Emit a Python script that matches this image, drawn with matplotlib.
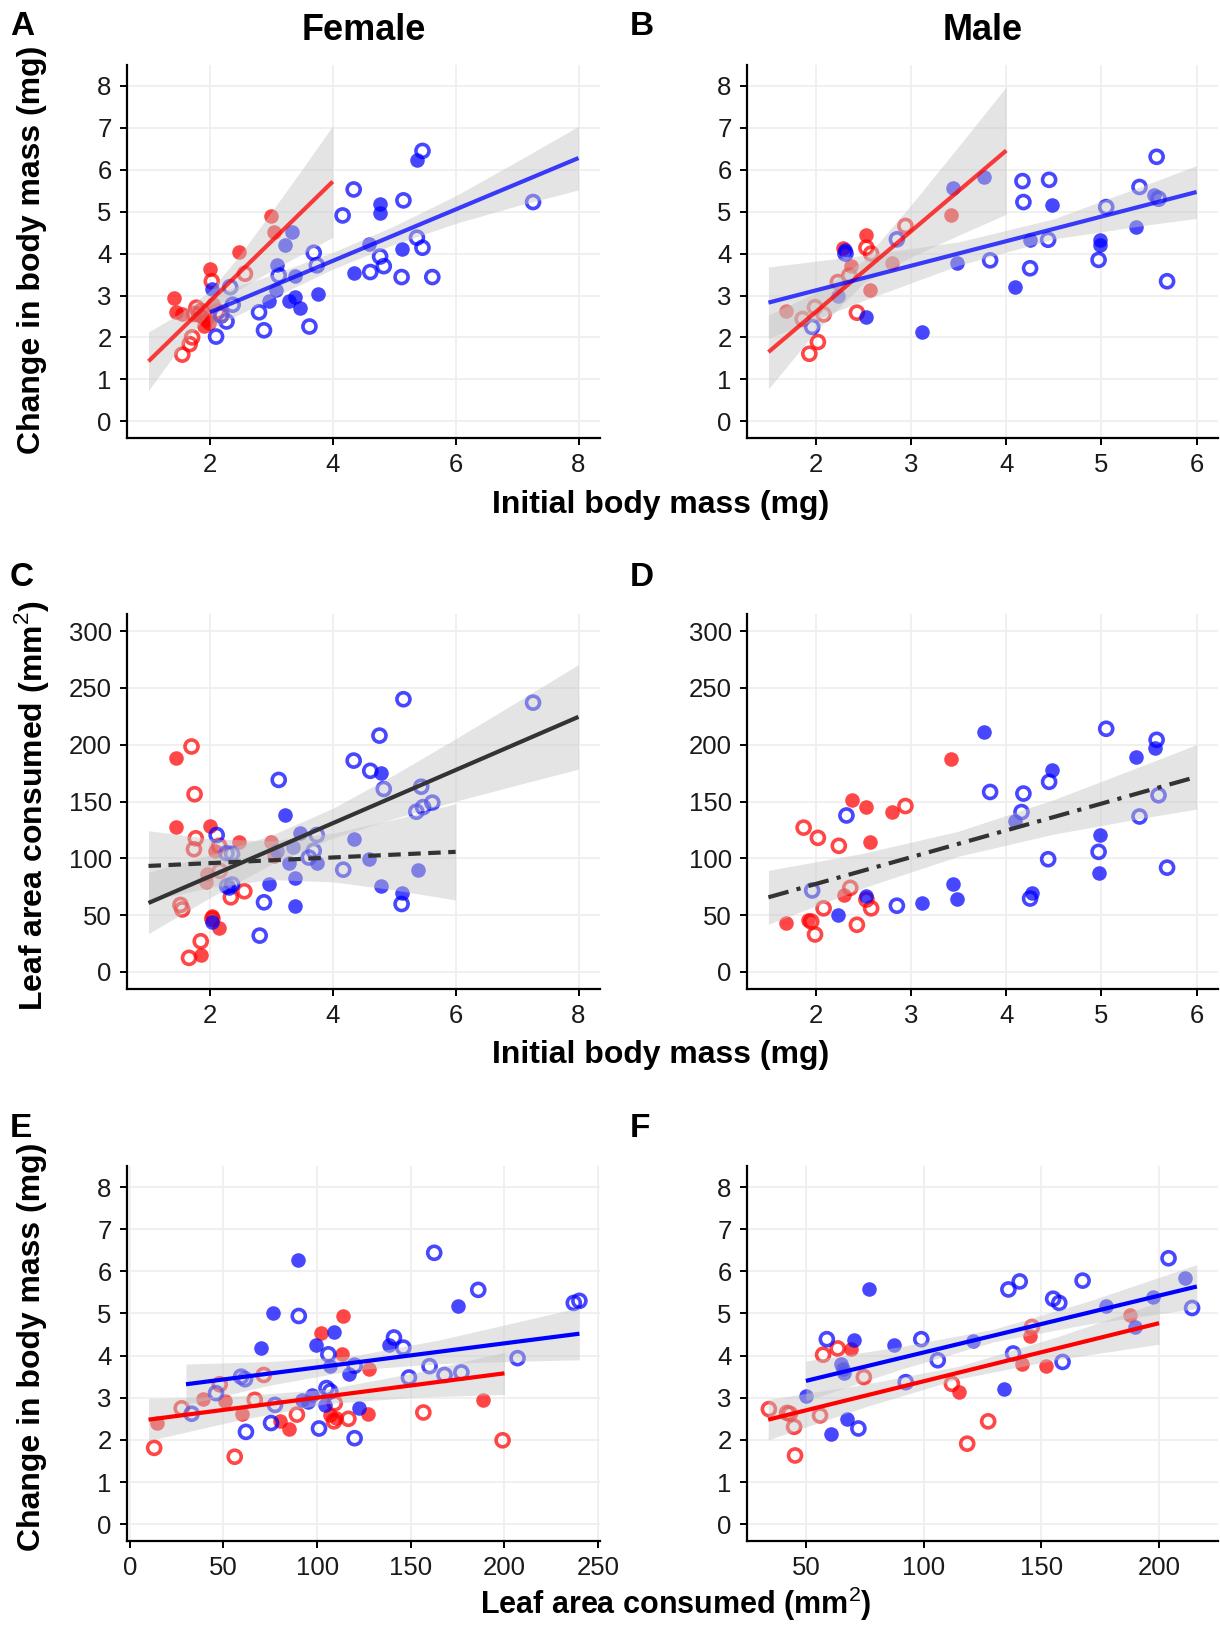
import numpy as np
import matplotlib
matplotlib.use('Agg')
import matplotlib.pyplot as plt

plt.rcParams['font.family'] = ['Liberation Sans', 'DejaVu Sans']
plt.rcParams['mathtext.fontset'] = 'custom'
plt.rcParams['mathtext.rm'] = 'Liberation Sans'
plt.rcParams['mathtext.bf'] = 'Liberation Sans:bold'

RED = '#FF0000'
BLUE = '#0000FF'

# ---------------- panel A : female, change in mass vs initial mass
a_rf_x = [1.42, 1.45, 1.54, 2.00, 2.47, 2.99, 3.04, 1.94, 1.99, 1.91, 1.86, 2.05]
a_rf_y = [2.94, 2.60, 2.56, 3.64, 4.04, 4.90, 4.51, 2.42, 2.35, 2.27, 2.50, 2.80]
a_ro_x = [1.55, 1.67, 1.71, 2.03, 2.57, 1.78, 1.86, 1.74, 2.19, 2.12, 1.82]
a_ro_y = [1.59, 1.84, 2.00, 3.34, 3.52, 2.71, 2.63, 2.56, 2.54, 2.62, 2.55]
a_bf_x = [5.37, 4.77, 4.77, 3.34, 3.22, 4.59, 5.13, 4.34, 3.09, 3.39, 3.07, 2.96, 3.39, 3.29, 3.47, 3.76, 2.03]
a_bf_y = [6.24, 5.18, 4.98, 4.51, 4.21, 4.24, 4.12, 3.54, 3.72, 3.46, 3.12, 2.87, 2.96, 2.87, 2.71, 3.04, 3.16]
a_bo_x = [5.46, 4.34, 5.15, 4.16, 7.26, 3.69, 3.74, 5.37, 5.46, 4.77, 4.83, 4.61, 5.12, 5.62, 3.12, 2.80,
          2.88, 3.62, 2.10, 2.27, 2.33, 2.37, 2.18]
a_bo_y = [6.45, 5.53, 5.27, 4.91, 5.23, 4.02, 3.72, 4.38, 4.14, 3.93, 3.70, 3.56, 3.44, 3.44, 3.48, 2.60,
          2.17, 2.26, 2.02, 2.38, 3.20, 2.78, 2.52]
a_red_line_x = [1, 4]
a_red_line_y = [1.43, 5.72]
a_red_band_x = [1, 1.5, 2, 2.5, 3, 3.5, 4]
a_red_band_lo = [0.73, 1.74, 2.61, 3.17, 3.59, 3.99, 4.39]
a_red_band_hi = [2.13, 2.56, 3.11, 3.99, 4.99, 6.01, 7.05]
a_blue_line_x = [2, 8]
a_blue_line_y = [2.60, 6.28]
a_blue_band_x = [2, 3, 4, 5, 6, 7, 8]
a_blue_band_lo = [2.20, 2.93, 3.63, 4.22, 4.72, 5.14, 5.52]
a_blue_band_hi = [3.00, 3.49, 4.03, 4.66, 5.38, 6.20, 7.04]

# ---------------- panel B : male, change in mass vs initial mass
b_rf_x = [1.69, 2.37, 2.28, 2.53, 2.57, 2.80, 3.42]
b_rf_y = [2.63, 3.70, 4.14, 4.45, 3.12, 3.78, 4.93]
b_ro_x = [1.86, 1.99, 2.08, 1.93, 2.02, 2.23, 2.35, 2.53, 2.58, 2.43, 2.94]
b_ro_y = [2.44, 2.72, 2.55, 1.61, 1.89, 3.32, 3.48, 4.14, 4.00, 2.59, 4.66]
b_bf_x = [2.23, 2.31, 2.53, 3.44, 3.77, 3.48, 3.11, 4.48, 4.25, 4.09, 4.98, 4.98, 5.36, 5.55]
b_bf_y = [3.00, 4.09, 2.48, 5.57, 5.83, 3.78, 2.13, 5.17, 4.33, 3.20, 4.33, 4.21, 4.63, 5.39]
b_bo_x = [1.96, 2.31, 2.85, 3.83, 4.17, 4.18, 4.45, 4.44, 4.25, 4.97, 5.05, 5.40, 5.60, 5.58, 5.69]
b_bo_y = [2.25, 4.00, 4.34, 3.84, 5.73, 5.23, 5.76, 4.33, 3.65, 3.85, 5.11, 5.59, 5.31, 6.31, 3.34]
b_red_line_x = [1.5, 4]
b_red_line_y = [1.65, 6.46]
b_red_band_x = [1.5, 2, 2.5, 3, 3.5, 4]
b_red_band_lo = [0.77, 2.15, 3.30, 3.92, 4.44, 4.94]
b_red_band_hi = [2.53, 3.07, 3.84, 5.16, 6.56, 7.98]
b_blue_line_x = [1.5, 6]
b_blue_line_y = [2.83, 5.47]
b_blue_band_x = [1.5, 2.5, 3.5, 4.5, 5.5, 6]
b_blue_band_lo = [1.98, 2.88, 3.72, 4.35, 4.69, 4.84]
b_blue_band_hi = [3.68, 3.96, 4.28, 4.83, 5.67, 6.10]

# ---------------- panel C : female, leaf area vs initial mass
c_rf_x = [1.44, 1.44, 2.00, 2.08, 2.47, 2.99, 3.04, 1.95, 1.93, 2.03, 2.15, 1.85]
c_rf_y = [188.6, 127.3, 128.2, 106.6, 114, 114, 102, 86, 79, 49, 38.5, 14.8]
c_ro_x = [1.70, 1.75, 1.77, 1.74, 2.15, 2.16, 2.34, 2.56, 1.52, 1.55, 2.04, 1.85, 1.66]
c_ro_y = [198.4, 156.4, 117.6, 108, 111, 89, 65.7, 71, 59, 55, 46.8, 27, 12.4]
c_bf_x = [4.78, 3.22, 3.46, 4.34, 3.09, 3.36, 3.75, 3.29, 3.39, 4.59, 5.39, 2.31, 2.96, 3.39, 4.78, 5.13, 2.04]
c_bf_y = [175, 138, 122, 117, 106.6, 109.6, 96, 96, 82.6, 99, 89.4, 74, 77.6, 57.7, 75.5, 69.6, 44.4]
c_bo_x = [5.15, 7.26, 4.76, 4.34, 4.61, 3.12, 4.83, 5.44, 5.36, 5.47, 5.62, 2.11, 3.74, 2.27, 2.36, 3.69,
          3.61, 4.17, 2.28, 2.36, 2.88, 5.12, 2.81]
c_bo_y = [240, 237, 208, 186, 177, 169, 161, 163, 141, 145, 149, 120.5, 120.5, 104.5, 104, 106.6,
          100.7, 90, 75.5, 77, 61.3, 59.8, 32]
c_all_line_x = [1, 8]
c_all_line_y = [60.7, 224.5]
c_all_band_x = [1, 2, 3, 4, 5, 6, 7, 8]
c_all_band_lo = [33.7, 65.3, 94.7, 117.8, 135.1, 150.2, 164.5, 178.5]
c_all_band_hi = [87.7, 102.9, 120.3, 144.0, 173.5, 205.2, 237.7, 270.5]
c_red_line_x = [1, 6]
c_red_line_y = [93.3, 105.7]
c_red_band_x = [1, 2, 3, 4, 5, 6]
c_red_band_lo = [62.3, 74.4, 81.3, 79.3, 72.2, 63.3]
c_red_band_hi = [124.3, 117.2, 115.3, 122.1, 134.2, 148.1]

# ---------------- panel D : male, leaf area vs initial mass
d_rf_x = [1.69, 2.38, 2.53, 2.80, 2.57, 3.42, 2.29, 1.92]
d_rf_y = [43.5, 151.6, 145, 141, 114.6, 187.4, 68, 45.5]
d_ro_x = [1.87, 2.02, 2.24, 2.94, 2.36, 2.08, 2.53, 2.58, 1.95, 1.99, 2.43]
d_ro_y = [127, 118, 111, 146, 74, 56, 63.7, 56, 44.4, 33, 41.5]
d_bf_x = [2.23, 2.53, 3.11, 3.44, 3.48, 3.77, 4.09, 4.48, 4.27, 4.99, 4.97, 5.36, 5.56]
d_bf_y = [49.7, 66.6, 60.7, 77, 64.6, 210.8, 133, 177.7, 69.6, 120.5, 87.4, 189, 197]
d_bo_x = [1.96, 2.32, 2.85, 3.83, 4.18, 4.16, 4.45, 4.44, 4.25, 5.05, 4.97, 5.58, 5.60, 5.40, 5.69]
d_bo_y = [71.7, 137.7, 58.3, 158.4, 157, 140.7, 167.3, 99.2, 64.6, 214, 105.7, 204.3, 155.5, 136.8, 91.8]
d_all_line_x = [1.5, 6]
d_all_line_y = [65.7, 171.7]
d_all_band_x = [1.5, 2.5, 3.5, 4.5, 5.5, 6]
d_all_band_lo = [42.0, 74.1, 101.9, 121.3, 136.4, 143.3]
d_all_band_hi = [89.4, 104.5, 123.9, 151.7, 183.8, 200.1]

# ---------------- panel E : female, change in mass vs leaf area
e_rf_x = [14.6, 39, 51, 60, 80.2, 85, 102, 114, 113.5, 107, 110, 127.7, 127, 188.5]
e_rf_y = [2.40, 2.97, 2.92, 2.62, 2.44, 2.26, 4.54, 4.93, 4.05, 2.58, 2.52, 3.68, 2.62, 2.95]
e_ro_x = [13, 27.7, 48, 56, 66.7, 71.5, 89.2, 109.4, 109, 116.7, 156.7, 199]
e_ro_y = [1.81, 2.75, 3.32, 1.60, 2.95, 3.54, 2.60, 2.87, 2.44, 2.50, 2.65, 1.99]
e_bf_x = [90, 175.4, 76.5, 109, 70.2, 99.6, 138.5, 107, 117, 91.7, 97, 104, 122.5, 95]
e_bf_y = [6.27, 5.18, 5.02, 4.55, 4.17, 4.25, 4.24, 3.76, 3.56, 2.95, 3.07, 2.83, 2.75, 2.90]
e_bo_x = [162.5, 186, 237, 240, 90.2, 106, 141, 146, 120, 160, 168, 177, 149, 207, 59.4, 61.5, 46, 33,
          62, 75.4, 77.5, 105, 107, 101, 120]
e_bo_y = [6.44, 5.56, 5.25, 5.30, 4.94, 4.03, 4.43, 4.19, 3.76, 3.75, 3.54, 3.60, 3.48, 3.94, 3.50, 3.44,
          3.11, 2.62, 2.19, 2.40, 2.83, 3.23, 3.15, 2.27, 2.04]
e_blue_line_x = [30, 240]
e_blue_line_y = [3.32, 4.52]
e_blue_band_x = [30, 75, 120, 165, 210, 240]
e_blue_band_lo = [2.84, 3.30, 3.66, 3.81, 3.87, 3.90]
e_blue_band_hi = [3.80, 3.86, 4.00, 4.37, 4.83, 5.14]
e_red_line_x = [10, 200]
e_red_line_y = [2.48, 3.58]
e_red_band_x = [10, 57, 105, 152, 200]
e_red_band_lo = [1.98, 2.46, 2.86, 3.01, 3.08]
e_red_band_hi = [2.98, 3.04, 3.20, 3.59, 4.08]

# ---------------- panel F : male, change in mass vs leaf area
f_rf_x = [69, 115, 141.6, 145, 152, 187.8]
f_rf_y = [4.15, 3.14, 3.80, 4.47, 3.75, 4.97]
f_ro_x = [34.3, 42, 43.2, 45, 45.4, 56, 57.3, 63.5, 74.6, 112, 118.5, 127.4, 146]
f_ro_y = [2.73, 2.64, 2.62, 2.31, 1.63, 2.58, 4.02, 4.17, 3.49, 3.33, 1.91, 2.44, 4.68]
f_bf_x = [50, 70.6, 64.9, 65.7, 66, 60.7, 67.3, 76.7, 87.5, 120.8, 134, 177.4, 189.8, 197.5, 211]
f_bf_y = [3.05, 4.37, 3.80, 3.68, 3.58, 2.15, 2.50, 5.58, 4.24, 4.35, 3.21, 5.17, 4.68, 5.39, 5.84]
f_bo_x = [58.9, 72.3, 99, 106, 92.4, 136, 140.8, 138, 155, 157.6, 159, 167.5, 204, 214]
f_bo_y = [4.39, 2.27, 4.39, 3.89, 3.37, 5.57, 5.76, 4.05, 5.35, 5.25, 3.85, 5.78, 6.31, 5.13]
f_blue_line_x = [50, 216]
f_blue_line_y = [3.40, 5.64]
f_blue_band_x = [50, 90, 130, 170, 216]
f_blue_band_lo = [2.93, 3.67, 4.33, 4.75, 5.12]
f_blue_band_hi = [3.87, 4.21, 4.63, 5.29, 6.16]
f_red_line_x = [34, 200]
f_red_line_y = [2.48, 4.77]
f_red_band_x = [34, 75, 115, 157, 200]
f_red_band_lo = [2.00, 2.78, 3.45, 3.91, 4.27]
f_red_band_hi = [2.96, 3.32, 3.75, 4.45, 5.27]

mass_ticks_f = [2, 4, 6, 8]
mass_ticks_m = [2, 3, 4, 5, 6]
change_ticks = [0, 1, 2, 3, 4, 5, 6, 7, 8]
leaf_ticks = [0, 50, 100, 150, 200, 250, 300]
leafx_ticks_f = [0, 50, 100, 150, 200, 250]
leafx_ticks_m = [50, 100, 150, 200]

W, H = 1220, 1625
fig = plt.figure(figsize=(W / 100, H / 100), dpi=100)


def add_ax(l, r, t, b):
    return fig.add_axes([l / W, 1 - b / H, (r - l) / W, (b - t) / H])


def style(ax, xlim, ylim, xticks, yticks):
    ax.set_xlim(xlim)
    ax.set_ylim(ylim)
    ax.set_xticks(xticks)
    ax.set_yticks(yticks)
    for s in ['top', 'right']:
        ax.spines[s].set_visible(False)
    for s in ['left', 'bottom']:
        ax.spines[s].set_linewidth(1.6)
    ax.grid(True, color='#EFEFEF', lw=1.3, zorder=0)
    ax.set_axisbelow(True)
    ax.tick_params(length=5, width=1.4, labelsize=18.5, pad=6, labelcolor='#1a1a1a')


def points(ax, x, y, color, filled):
    if filled:
        ax.scatter(x, y, s=110, c=color, alpha=0.72, linewidths=0, zorder=2)
    else:
        ax.scatter(x, y, s=88, facecolors='none', edgecolors=color,
                   linewidths=2.6, alpha=0.72, zorder=2)


def fit(ax, bx, lo, hi, lx, ly, color, ls='-', alpha=1.0):
    ax.fill_between(bx, lo, hi, color='#C4C4C4', alpha=0.45, lw=0, zorder=3)
    ax.plot(lx, ly, color=color, lw=3, ls=ls, alpha=alpha, zorder=4,
            solid_capstyle='butt')


axA = add_ax(127, 600, 65, 438)
axB = add_ax(747, 1218, 65, 438)
axC = add_ax(127, 600, 614, 989)
axD = add_ax(747, 1218, 614, 989)
axE = add_ax(127, 600, 1166, 1541)
axF = add_ax(747, 1218, 1166, 1541)

# A
style(axA, (0.65, 8.35), (-0.4, 8.5), mass_ticks_f, change_ticks)
points(axA, a_rf_x, a_rf_y, RED, True)
points(axA, a_ro_x, a_ro_y, RED, False)
points(axA, a_bf_x, a_bf_y, BLUE, True)
points(axA, a_bo_x, a_bo_y, BLUE, False)
fit(axA, a_red_band_x, a_red_band_lo, a_red_band_hi, a_red_line_x, a_red_line_y, RED, alpha=0.75)
fit(axA, a_blue_band_x, a_blue_band_lo, a_blue_band_hi, a_blue_line_x, a_blue_line_y, BLUE, alpha=0.75)

# B
style(axB, (1.275, 6.225), (-0.4, 8.5), mass_ticks_m, change_ticks)
points(axB, b_rf_x, b_rf_y, RED, True)
points(axB, b_ro_x, b_ro_y, RED, False)
points(axB, b_bf_x, b_bf_y, BLUE, True)
points(axB, b_bo_x, b_bo_y, BLUE, False)
fit(axB, b_red_band_x, b_red_band_lo, b_red_band_hi, b_red_line_x, b_red_line_y, RED, alpha=0.75)
fit(axB, b_blue_band_x, b_blue_band_lo, b_blue_band_hi, b_blue_line_x, b_blue_line_y, BLUE, alpha=0.75)

# C
style(axC, (0.65, 8.35), (-15, 315), mass_ticks_f, leaf_ticks)
points(axC, c_rf_x, c_rf_y, RED, True)
points(axC, c_ro_x, c_ro_y, RED, False)
points(axC, c_bf_x, c_bf_y, BLUE, True)
points(axC, c_bo_x, c_bo_y, BLUE, False)
fit(axC, c_all_band_x, c_all_band_lo, c_all_band_hi, c_all_line_x, c_all_line_y, '#333333')
fit(axC, c_red_band_x, c_red_band_lo, c_red_band_hi, c_red_line_x, c_red_line_y, '#333333',
    ls=(0, (3, 1.8)))

# D
style(axD, (1.275, 6.225), (-15, 315), mass_ticks_m, leaf_ticks)
points(axD, d_rf_x, d_rf_y, RED, True)
points(axD, d_ro_x, d_ro_y, RED, False)
points(axD, d_bf_x, d_bf_y, BLUE, True)
points(axD, d_bo_x, d_bo_y, BLUE, False)
fit(axD, d_all_band_x, d_all_band_lo, d_all_band_hi, d_all_line_x, d_all_line_y, '#333333',
    ls=(0, (5, 2, 1, 2)))

# E
style(axE, (-1.5, 251), (-0.4, 8.5), leafx_ticks_f, change_ticks)
points(axE, e_rf_x, e_rf_y, RED, True)
points(axE, e_ro_x, e_ro_y, RED, False)
points(axE, e_bf_x, e_bf_y, BLUE, True)
points(axE, e_bo_x, e_bo_y, BLUE, False)
fit(axE, e_blue_band_x, e_blue_band_lo, e_blue_band_hi, e_blue_line_x, e_blue_line_y, BLUE)
fit(axE, e_red_band_x, e_red_band_lo, e_red_band_hi, e_red_line_x, e_red_line_y, RED)

# F
style(axF, (25, 225), (-0.4, 8.5), leafx_ticks_m, change_ticks)
points(axF, f_rf_x, f_rf_y, RED, True)
points(axF, f_ro_x, f_ro_y, RED, False)
points(axF, f_bf_x, f_bf_y, BLUE, True)
points(axF, f_bo_x, f_bo_y, BLUE, False)
fit(axF, f_blue_band_x, f_blue_band_lo, f_blue_band_hi, f_blue_line_x, f_blue_line_y, BLUE)
fit(axF, f_red_band_x, f_red_band_lo, f_red_band_hi, f_red_line_x, f_red_line_y, RED)


def ftext(x, y, s, **kw):
    fig.text(x / W, 1 - y / H, s, **kw)


# panel letters
for letter, x, y in [('A', 10, 11), ('B', 630, 11), ('C', 10, 562),
                     ('D', 630, 562), ('E', 10, 1113), ('F', 630, 1113)]:
    ftext(x, y, letter, ha='left', va='top', fontsize=24, fontweight='bold')

ftext(364, 31, 'Female', ha='center', va='center', fontsize=26, fontweight='bold')
ftext(983, 31, 'Male', ha='center', va='center', fontsize=26, fontweight='bold')

ftext(661, 505, 'Initial body mass (mg)', ha='center', va='center', fontsize=23, fontweight='bold')
ftext(661, 1055, 'Initial body mass (mg)', ha='center', va='center', fontsize=23, fontweight='bold')
ftext(676, 1604, r'Leaf area consumed (mm$^{2}$)', ha='center', va='center', fontsize=22,
      fontweight='bold')

ftext(32, 250, 'Change in body mass (mg)', ha='center', va='center', rotation=90,
      fontsize=23, fontweight='bold')
ftext(32, 806, r'Leaf area consumed (mm$^{2}$)', ha='center', va='center', rotation=90,
      fontsize=23, fontweight='bold')
ftext(32, 1347, 'Change in body mass (mg)', ha='center', va='center', rotation=90,
      fontsize=23, fontweight='bold')

fig.savefig('out.png', dpi=100)
